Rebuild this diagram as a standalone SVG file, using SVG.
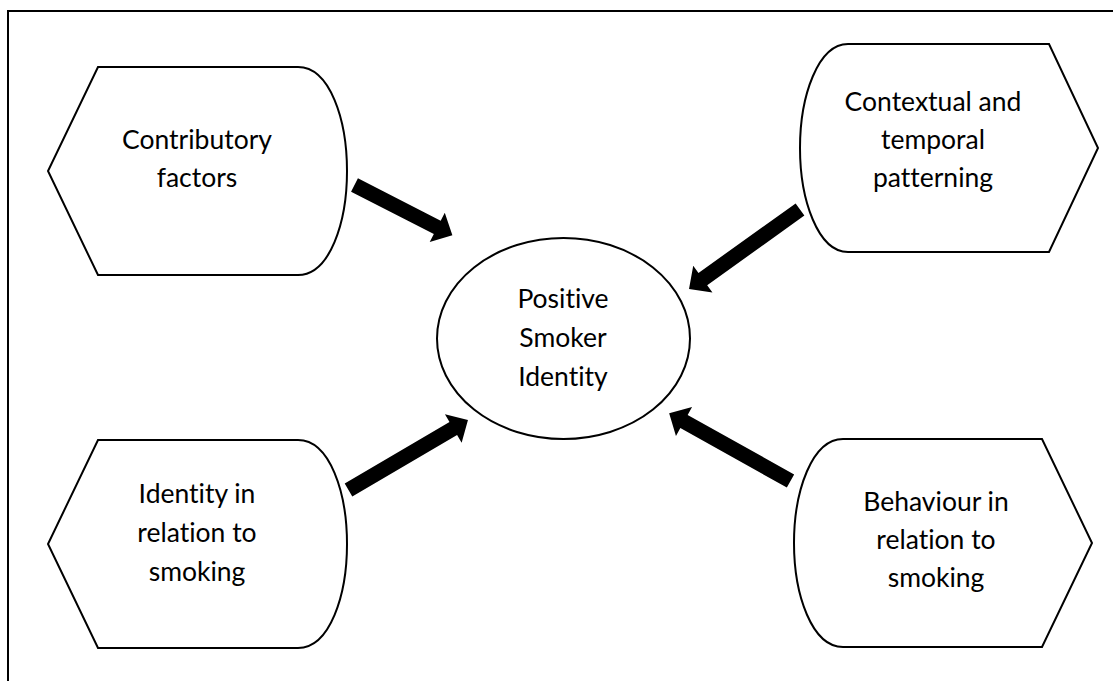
<svg xmlns="http://www.w3.org/2000/svg" width="1113" height="681" viewBox="0 0 1113 681">
<style>
.shape{fill:#fff;stroke:#000;stroke-width:2;stroke-linejoin:miter}
.lbl{font-family:Lato,"Open Sans","Liberation Sans",sans-serif;font-size:26.5px;fill:#000;text-anchor:middle;font-variant-ligatures:none;font-feature-settings:"liga" 0,"clig" 0}
.arrow{fill:#000;stroke:none}
.frame{stroke:#000;stroke-width:2;fill:none}
</style>
<rect width="1113" height="681" fill="#fff"/>
<path class="frame" d="M8,681 L8,11 L1113,11"/>
<g id="contributory">
<path class="shape" d="M98,67 L298,67 C330,67 347,120 347,171 C347,222 330,275 298,275 L98,275 L48,171 Z"/>
<text class="lbl" x="197" y="149">Contributory</text>
<text class="lbl" x="197" y="187">factors</text>
</g>
<g id="contextual">
<path class="shape" d="M848,44 L1049,44 L1098,148 L1049,252 L848,252 C818,252 800,200 800,148 C800,96 818,44 848,44 Z"/>
<text class="lbl" x="933" y="111">Contextual and</text>
<text class="lbl" x="933" y="149">temporal</text>
<text class="lbl" x="933" y="187">patterning</text>
</g>
<g id="identity">
<path class="shape" d="M98,440 L298,440 C330,440 347,493 347,544 C347,595 330,648 298,648 L98,648 L48,544 Z"/>
<text class="lbl" x="197" y="503">Identity in</text>
<text class="lbl" x="197" y="542">relation to</text>
<text class="lbl" x="197" y="581">smoking</text>
</g>
<g id="behaviour">
<path class="shape" d="M843,439 L1042,439 L1092,543 L1042,647 L843,647 C812,647 794,595 794,543 C794,491 812,439 843,439 Z"/>
<text class="lbl" x="936" y="511">Behaviour in</text>
<text class="lbl" x="936" y="549">relation to</text>
<text class="lbl" x="936" y="587">smoking</text>
</g>
<g id="center">
<ellipse class="shape" cx="563.5" cy="338.5" rx="126.5" ry="100.5"/>
<text class="lbl" x="563" y="308">Positive</text>
<text class="lbl" x="563" y="347">Smoker</text>
<text class="lbl" x="563" y="386">Identity</text>
</g>
<g id="connectors">
<polygon class="arrow" transform="translate(354.5,185) rotate(27.15)" points="0,-7.5 93,-7.5 93,-16.5 110,0 93,16.5 93,7.5 0,7.5"/>
<polygon class="arrow" transform="translate(800,209.5) rotate(144.4)" points="0,-7.5 119.5,-7.5 119.5,-16.5 136.5,0 119.5,16.5 119.5,7.5 0,7.5"/>
<polygon class="arrow" transform="translate(348.5,490) rotate(-30.4)" points="0,-7.5 121.5,-7.5 121.5,-16.5 138.5,0 121.5,16.5 121.5,7.5 0,7.5"/>
<polygon class="arrow" transform="translate(790.5,481) rotate(-150.8)" points="0,-7.5 122,-7.5 122,-16.5 139,0 122,16.5 122,7.5 0,7.5"/>
</g>
</svg>
